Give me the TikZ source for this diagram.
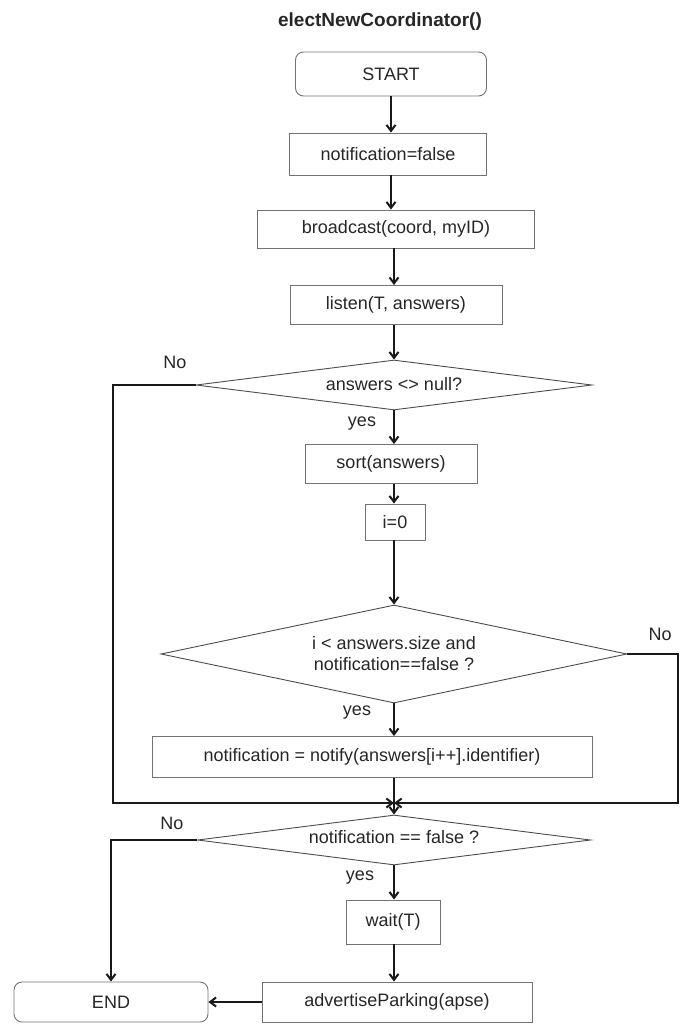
\documentclass[tikz,border=0pt]{standalone}
\usepackage{fontspec}
\setmainfont{Liberation Sans}
\usetikzlibrary{shapes.geometric,arrows.meta}

\begin{document}
\begin{tikzpicture}[x=1pt, y=-1pt,
            every node/.style = {font=\fontsize{18}{21}\selectfont, text=black!85},
            box/.style = {rectangle, draw=black!55, line width=0.9pt,
                          align=center, inner sep=0pt},
            term/.style = {box, rounded corners=8pt},
            decision/.style = {diamond, draw=black!70, line width=0.9pt,
                               align=center, inner sep=0pt},
            flow/.style = {draw=black!90, line width=2pt,
                           -{Straight Barb[length=6pt,width=9pt]}}]
    \useasboundingbox (0,0) rectangle (680,1025);
    \node[font=\bfseries\fontsize{19}{22}\selectfont] (title) at (380,22) {electNewCoordinator()};
    \node[term, minimum width=191pt, minimum height=44pt] (start) at (391,74) {START};
    \node[box, minimum width=197pt, minimum height=42pt] (notif) at (388,154) {notification=false};
    \node[box, minimum width=277pt, minimum height=38pt] (bcast) at (396,229) {broadcast(coord, myID)};
    \node[box, minimum width=212pt, minimum height=39pt] (listen) at (396,305) {listen(T, answers)};
    \node[decision, aspect=7.9, minimum width=396pt, minimum height=50pt] (nonull) at (394,385)
        {\raisebox{3pt}{answers <> null?}};
    \node[box, minimum width=172pt, minimum height=39pt] (sort) at (391,464) {sort(answers)};
    \node[box, minimum width=60pt, minimum height=36pt] (izero) at (395,522) {i=0};
    \node[decision, aspect=4.75, minimum width=466pt, minimum height=98pt] (loop) at (394,654)
        {i < answers.size and\\notification==false ?};
    \node[box, minimum width=440pt, minimum height=41pt] (notify) at (372,757)
        {notification = notify(answers[i++].identifier)};
    \coordinate (merge) at (394,803);
    \node[decision, aspect=7.86, minimum width=393pt, minimum height=50pt] (isfalse) at (394,840)
        {\raisebox{6pt}{notification == false ?}};
    \node[box, minimum width=94pt, minimum height=44pt] (wait) at (393,922) {wait(T)};
    \node[box, minimum width=270pt, minimum height=40pt] (advert) at (397,1002) {advertiseParking(apse)};
    \node[term, minimum width=194pt, minimum height=40pt] (finish) at (111,1002) {END};

    % labels
    \node (no1) at (175,362) {No};
    \node (yes1) at (362,424) {yes};
    \node (no2) at (660,634) {No};
    \node (yes2) at (357,713) {yes};
    \node (no3) at (172,823) {No};
    \node (yes3) at (360,878) {yes};

    \coordinate (lft) at (113,803);
    \coordinate (rgt) at (678,803);

    \draw[flow] (start.south) -- (start.south |- notif.north);
    \draw[flow] (notif.south -| start.south) -- (start.south |- bcast.north);
    \draw[flow] (bcast.south -| merge) -- (merge |- listen.north);
    \draw[flow] (listen.south -| merge) -- (nonull.north);
    \draw[flow] (nonull.south) -- (nonull.south |- sort.north);
    \draw[flow] (sort.south -| merge) -- (merge |- izero.north);
    \draw[flow] (izero.south -| merge) -- (loop.north);
    \draw[flow] (loop.south) -- (loop.south |- notify.north);
    \draw[flow] (notify.south -| merge) -- (isfalse.north);
    \draw[flow] (nonull.west) -| (lft) -- (merge);
    \draw[flow] (loop.east) -| (rgt) -- (merge);
    \draw[flow] (isfalse.west) -| (finish.north);
    \draw[flow] (isfalse.south) -- (isfalse.south |- wait.north);
    \draw[flow] (wait.south -| merge) -- (merge |- advert.north);
    \draw[flow] (advert.west) -- (finish.east);
\end{tikzpicture}
\end{document}
